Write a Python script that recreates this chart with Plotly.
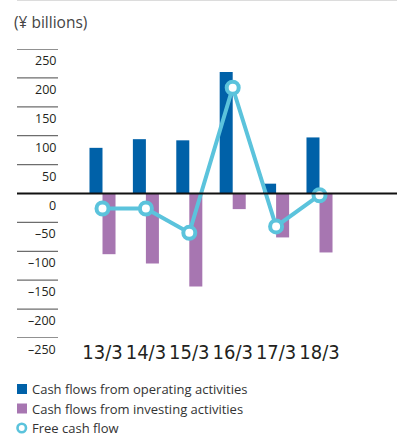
import plotly.graph_objects as go

# Fiscal years (year/month of fiscal year end)
periods = ["13/3", "14/3", "15/3", "16/3", "17/3", "18/3"]

# Cash flows, ¥ billions
operating_cf = [79, 94, 92, 210, 17, 97]
investing_cf = [-105, -121, -161, -27, -76, -102]
free_cf = [-26, -26, -68, 183, -57, -3]

# Value axis ticks and their labels
y_ticks = [250, 200, 150, 100, 50, 0, -50, -100, -150, -200, -250]
y_tick_text = ["250", "200", "150", "100", "50", "0",
               "–50", "–100", "–150", "–200", "–250"]

series_names = ["Cash flows from operating activities",
                "Cash flows from investing activities",
                "Free cash flow"]

BLUE = "#0061A8"
PURPLE = "#A776B1"
CYAN = "#5BC3DC"
TEXT = "#231F20"

W, H = 404, 436
M_T, M_B = 49, 98
PLOT_H = H - M_T - M_B


def px_x(p):
    """Horizontal pixel -> paper coordinate (plot area spans full width)."""
    return p / W


def px_y(p):
    """Vertical pixel (from top) -> paper coordinate."""
    return (H - M_B - p) / PLOT_H


# Category spacing and position of the first category, in pixels
CAT_STEP = 43.4
FIRST_CAT_PX = 102.5
x_lo = -FIRST_CAT_PX / CAT_STEP
x_hi = x_lo + W / CAT_STEP

fig = go.Figure()
fig.add_trace(go.Bar(x=periods, y=operating_cf, name=series_names[0],
                     marker=dict(color=BLUE, line=dict(width=0)),
                     showlegend=False))
fig.add_trace(go.Bar(x=periods, y=investing_cf, name=series_names[1],
                     marker=dict(color=PURPLE, line=dict(width=0)),
                     showlegend=False))
fig.add_trace(go.Scatter(x=periods, y=free_cf, name=series_names[2],
                         mode="lines+markers",
                         line=dict(color=CYAN, width=4),
                         marker=dict(symbol="circle", size=12, color="white",
                                     line=dict(color=CYAN, width=4)),
                         cliponaxis=False, showlegend=False))

shapes = []
annotations = []

# Short tick rules on the left with their labels just below
for v, t in zip(y_ticks, y_tick_text):
    if v != 0:
        shapes.append(dict(type="line", xref="paper", yref="y",
                           x0=px_x(17), x1=px_x(58), y0=v, y1=v,
                           line=dict(color="#6d6d6d", width=1.3)))
    annotations.append(dict(xref="paper", yref="y", x=px_x(58), y=v,
                            xanchor="right", yanchor="top", yshift=-1,
                            text=t, showarrow=False,
                            font=dict(family="Open Sans", size=12.5, color=TEXT)))

# Baseline at zero across the chart
shapes.append(dict(type="line", xref="paper", yref="y",
                   x0=px_x(17), x1=px_x(397), y0=0, y1=0,
                   line=dict(color="#111111", width=2)))

# Thin rule along the top edge
shapes.append(dict(type="line", xref="paper", yref="paper",
                   x0=px_x(17), x1=px_x(397), y0=px_y(0.5), y1=px_y(0.5),
                   line=dict(color="#dcdcdc", width=1)))

# Unit label
annotations.append(dict(xref="paper", yref="paper", x=px_x(12), y=px_y(22),
                        xanchor="left", yanchor="middle",
                        text="(¥ billions)", showarrow=False,
                        font=dict(family="Open Sans", size=15.5, color="#444444")))

# Legend
legend_rows = [389, 408.5, 428]
for i, (name, row) in enumerate(zip(series_names, legend_rows)):
    if i < 2:
        shapes.append(dict(type="rect", xref="paper", yref="paper",
                           x0=px_x(17), x1=px_x(27), y0=px_y(row - 5), y1=px_y(row + 5),
                           fillcolor=[BLUE, PURPLE][i], line=dict(width=0)))
    else:
        shapes.append(dict(type="circle", xref="paper", yref="paper",
                           x0=px_x(17.5), x1=px_x(26), y0=px_y(row - 4.2), y1=px_y(row + 4.2),
                           fillcolor="white", line=dict(color=CYAN, width=2.6)))
    annotations.append(dict(xref="paper", yref="paper", x=px_x(30), y=px_y(row),
                            xanchor="left", yanchor="middle",
                            text=name, showarrow=False,
                            font=dict(family="Open Sans", size=13, color="#333333")))

fig.update_layout(
    width=W, height=H,
    margin=dict(l=0, r=0, t=M_T, b=M_B, pad=0),
    paper_bgcolor="white", plot_bgcolor="white",
    barmode="group", bargap=0.4, bargroupgap=0,
    showlegend=False,
    shapes=shapes, annotations=annotations,
    xaxis=dict(type="category", range=[x_lo, x_hi],
               showgrid=False, zeroline=False, showline=False, ticks="",
               tickfont=dict(family="Liberation Sans Narrow, DejaVu Sans Condensed",
                             size=20, color=TEXT)),
    yaxis=dict(range=[-250, 250], showgrid=False, zeroline=False,
               showline=False, showticklabels=False, ticks=""),
)

fig.write_html("out.html")
